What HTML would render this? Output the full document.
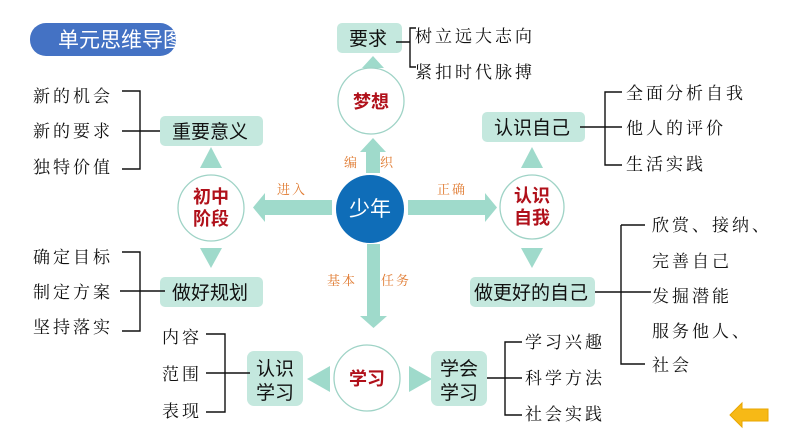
<!DOCTYPE html>
<html><head><meta charset="utf-8"><style>
html,body{margin:0;padding:0;background:#fff;}
svg{display:block;}
.s{font-family:"Liberation Sans","Noto Sans CJK SC",sans-serif;}
.k{font-family:"Liberation Serif","Noto Serif CJK SC",serif;font-size:17px;fill:#111;letter-spacing:3px;}
.b{font-size:19px;fill:#111;}
.r{font-size:18px;fill:#b0101a;font-weight:bold;}
.o{font-size:13px;fill:#e07a30;font-family:"Liberation Serif","Noto Serif CJK SC",serif;letter-spacing:2px;}
</style></head><body>
<svg width="794" height="447" viewBox="0 0 794 447" xmlns="http://www.w3.org/2000/svg" class="s">
<defs><clipPath id="tc"><rect x="30" y="23" width="146" height="33" rx="16"/></clipPath></defs>
<rect width="794" height="447" fill="#fff"/>
<!-- title -->
<rect x="30" y="23" width="146" height="33" rx="16" fill="#4472c4"/>
<text x="58" y="47" font-size="21" fill="#fff" clip-path="url(#tc)">单元思维导图</text>

<g fill="#9fdacb">
<rect x="366" y="151" width="14" height="22"/>
<polygon points="360,152 386,152 373,138"/>
<polygon points="362,68 384,68 373,56 "/>
<rect x="264" y="200" width="68" height="15"/>
<polygon points="265,193 265,222 253,207.5"/>
<rect x="408" y="200" width="78" height="15"/>
<polygon points="485,193 485,222 497,207.5"/>
<rect x="367" y="244" width="13" height="72"/>
<polygon points="360,316 387,316 373.5,328"/>
<polygon points="200,168 222,168 211,147 211,147"/>
<polygon points="200,248 222,248 211,268"/>
<polygon points="521,168 543,168 532,147"/>
<polygon points="521,248 543,248 532,268"/>
<polygon points="330,366 330,392 307,379 "/>
<polygon points="409,366 409,392 432,379"/>
</g>

<g fill="#c4e8de">
<rect x="337" y="23" width="65" height="30" rx="5"/>
<rect x="160" y="116" width="103" height="30" rx="5"/>
<rect x="160" y="277" width="103" height="30" rx="5"/>
<rect x="482" y="112" width="103" height="30" rx="5"/>
<rect x="470" y="277" width="125" height="30" rx="5"/>
<rect x="247" y="351" width="56" height="55" rx="7"/>
<rect x="431" y="351" width="56" height="55" rx="7"/>
</g>
<text x="349" y="45" class="b">要求</text>
<text x="172" y="138" class="b">重要意义</text>
<text x="172" y="299" class="b">做好规划</text>
<text x="494" y="134" class="b">认识自己</text>
<text x="474" y="299" class="b">做更好的自己</text>
<text x="256" y="375" class="b">认识</text><text x="256" y="399" class="b">学习</text>
<text x="440" y="375" class="b">学会</text><text x="440" y="399" class="b">学习</text>

<g fill="#fff" stroke="#9fd3c6" stroke-width="1.3">
<circle cx="371" cy="101" r="33"/>
<circle cx="211" cy="208" r="33"/>
<circle cx="532" cy="207" r="32"/>
<circle cx="367" cy="378" r="33"/>
</g>
<circle cx="370" cy="209" r="34" fill="#0f6db8"/>
<text x="370" y="216" text-anchor="middle" font-size="21" fill="#fff">少年</text>
<text x="371" y="108" text-anchor="middle" class="r">梦想</text>
<text x="211" y="203" text-anchor="middle" class="r">初中</text>
<text x="211" y="225" text-anchor="middle" class="r">阶段</text>
<text x="532" y="202" text-anchor="middle" class="r">认识</text>
<text x="532" y="224" text-anchor="middle" class="r">自我</text>
<text x="367" y="385" text-anchor="middle" class="r">学习</text>

<text x="344" y="167" class="o">编</text>
<text x="380" y="167" class="o">织</text>
<text x="277" y="194" class="o">进入</text>
<text x="437" y="194" class="o">正确</text>
<text x="327" y="285" class="o">基本</text>
<text x="381" y="285" class="o">任务</text>

<g stroke="#111" stroke-width="1.4" fill="none">
<path d="M396,42 H410 M416,28 H410 V67 H416"/>
<path d="M122,91 H140 V169 H122 M122,131 H160"/>
<path d="M122,252 H140 V331 H122 M120,291 H165"/>
<path d="M206,334 H225 V412 H206 M206,373 H250"/>
<path d="M580,127 H605 M622,92 H605 V165 H622 M605,127 H622"/>
<path d="M621,225 H645 M621,225 V364 H645 M595,292 H651"/>
<path d="M487,378 H522 M522,342 H505 V415 H522"/>
</g>

<text x="33" y="102" class="k">新的机会</text>
<text x="33" y="137" class="k">新的要求</text>
<text x="33" y="173" class="k">独特价值</text>
<text x="33" y="263" class="k">确定目标</text>
<text x="33" y="298" class="k">制定方案</text>
<text x="33" y="333" class="k">坚持落实</text>
<text x="162" y="343" class="k">内容</text>
<text x="162" y="380" class="k">范围</text>
<text x="162" y="417" class="k">表现</text>
<text x="415" y="42" class="k">树立远大志向</text>
<text x="415" y="78" class="k">紧扣时代脉搏</text>
<text x="626" y="99" class="k">全面分析自我</text>
<text x="626" y="134" class="k">他人的评价</text>
<text x="626" y="170" class="k">生活实践</text>
<text x="652" y="231" class="k">欣赏、接纳、</text>
<text x="652" y="267" class="k">完善自己</text>
<text x="652" y="302" class="k">发掘潜能</text>
<text x="652" y="337" class="k">服务他人、</text>
<text x="652" y="371" class="k">社会</text>
<text x="525" y="348" class="k">学习兴趣</text>
<text x="525" y="384" class="k">科学方法</text>
<text x="525" y="420" class="k">社会实践</text>

<polygon points="730,415 742,403 742,409 768,409 768,421 742,421 742,427" fill="#f7b916" stroke="#e8a600" stroke-width="1"/>
</svg>
</body></html>
